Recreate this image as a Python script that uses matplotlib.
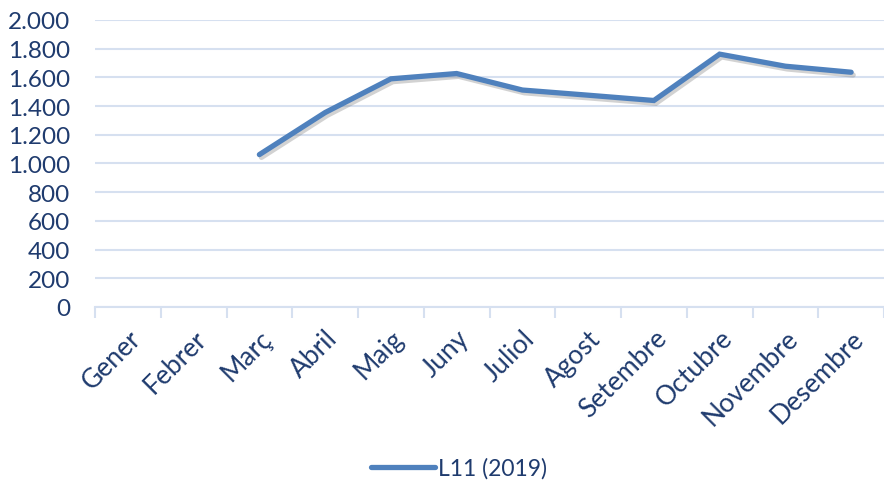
import numpy as np
import matplotlib
matplotlib.use('Agg')
import matplotlib.pyplot as plt
import matplotlib.patheffects as pe

months = ['Gener', 'Febrer', 'Març', 'Abril', 'Maig', 'Juny', 'Juliol',
          'Agost', 'Setembre', 'Octubre', 'Novembre', 'Desembre']
l11_2019 = [np.nan, np.nan, 1062, 1355, 1590, 1627, 1512, 1476, 1439, 1762, 1678, 1636]
yticks = [0, 200, 400, 600, 800, 1000, 1200, 1400, 1600, 1800, 2000]

txt = '#1F3B6E'
grid = '#D6E0F0'
blue = '#4F81BD'

plt.rcParams['font.family'] = ['Lato', 'DejaVu Sans']

fig = plt.figure(figsize=(8.84, 4.81), dpi=100)
ax = fig.add_axes([95 / 884, 1 - 308 / 481, (884 - 95) / 884, (308 - 21) / 481])

x = np.arange(len(months))
ax.plot(x, l11_2019, color=blue, lw=3.8, solid_capstyle='round', solid_joinstyle='miter',
        path_effects=[pe.SimpleLineShadow(offset=(1.5, -2), shadow_color='#7f7f7f', alpha=0.35),
                      pe.Normal()])
# legend handle without shadow
ax.plot([], [], color=blue, lw=3.8, solid_capstyle='round', label='L11 (2019)')

ax.set_xlim(-0.5, len(months) - 0.5)
ax.set_ylim(0, 2000)
ax.set_yticks(yticks)
ax.set_yticklabels([f'{v:,}'.replace(',', '.') for v in yticks])
ax.yaxis.grid(True, color=grid, lw=1.5)
ax.set_axisbelow(True)

ax.set_xticks(x)
ax.set_xticklabels(months, rotation=45, ha='right', rotation_mode='anchor')
ax.set_xticks(np.arange(-0.5, len(months)), minor=True)
ax.tick_params(axis='x', which='major', length=0, pad=13, labelsize=19, labelcolor=txt)
ax.tick_params(axis='x', which='minor', length=8, width=1.5, color=grid, direction='out')
ax.tick_params(axis='y', length=0, pad=18, labelsize=17.5, labelcolor=txt)

for s in ['top', 'right', 'left']:
    ax.spines[s].set_visible(False)
ax.spines['bottom'].set_color(grid)
ax.spines['bottom'].set_linewidth(1.5)

leg = fig.legend(loc='center', bbox_to_anchor=(0.519, 1 - 469 / 481), frameon=False,
                 fontsize=16.5, handlelength=2.8, handletextpad=0.1)
for t in leg.get_texts():
    t.set_color(txt)

fig.savefig('out.png', dpi=100)
